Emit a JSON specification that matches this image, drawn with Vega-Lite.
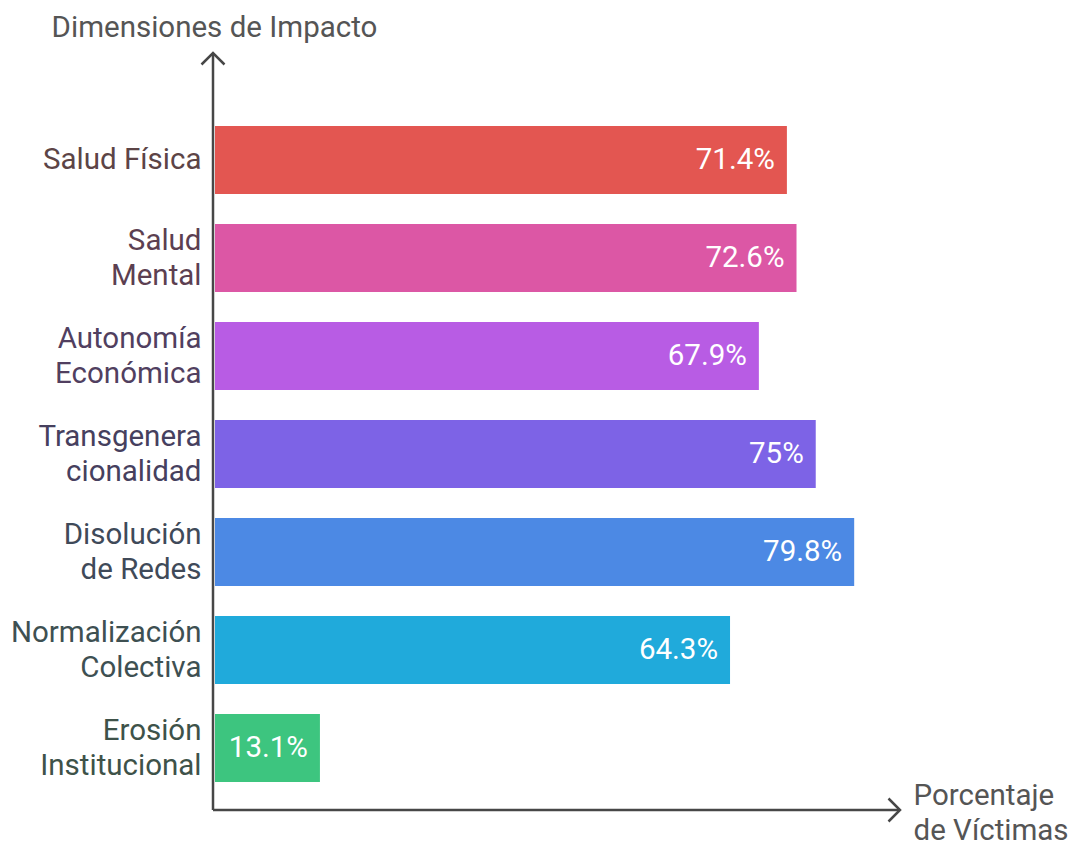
{
  "$schema": "https://vega.github.io/schema/vega-lite/v6.json",
  "autosize": "none",
  "width": 687,
  "height": 757,
  "padding": {"left": 213, "top": 53, "right": 170, "bottom": 31},
  "background": "white",
  "config": {"view": {"stroke": null}, "font": "Roboto"},
  "resolve": {"scale": {"y": "independent"}, "axis": {"y": "independent"}},
  "layer": [
    {
      "data": {"values": [
        {"dim": "Salud Física", "pct": 71.4},
        {"dim": "Salud Mental", "pct": 72.6},
        {"dim": "Autonomía Económica", "pct": 67.9},
        {"dim": "Transgeneracionalidad", "pct": 75},
        {"dim": "Disolución de Redes", "pct": 79.8},
        {"dim": "Normalización Colectiva", "pct": 64.3},
        {"dim": "Erosión Institucional", "pct": 13.1}
      ]},
      "transform": [{"calculate": "datum.pct + '%'", "as": "label"}],
      "encoding": {
        "y": {
          "field": "dim", "type": "nominal", "sort": null,
          "scale": {"range": [58, 744], "paddingInner": 0.306, "paddingOuter": 0.153},
          "axis": {
            "title": "Dimensiones de Impacto",
            "titleFont": "Roboto", "titleFontSize": 29.5, "titleFontWeight": "normal", "titleColor": "#555555",
            "titleAngle": 0, "titleX": 1, "titleY": -26, "titleAlign": "center", "titleBaseline": "middle",
            "domain": false, "ticks": false, "grid": false,
            "labelFont": "Roboto", "labelFontSize": 29.5, "labelPadding": 12, "labelLineHeight": 35,
            "labelLimit": 300,
            "labelOffset": {"condition": {"test": "datum.value == 'Salud Física'", "value": 0}, "value": -17.5},
            "labelExpr": "datum.value == 'Transgeneracionalidad' ? ['Transgenera', 'cionalidad'] : datum.value == 'Salud Física' ? datum.value : [slice(datum.value, 0, indexof(datum.value, ' ')), slice(datum.value, indexof(datum.value, ' ') + 1)]",
            "labelColor": {
              "condition": [
                {"test": "datum.value == 'Salud Física'", "value": "#5C4446"},
                {"test": "datum.value == 'Salud Mental'", "value": "#5C3F51"},
                {"test": "datum.value == 'Autonomía Económica'", "value": "#513F60"},
                {"test": "datum.value == 'Transgeneracionalidad'", "value": "#46405E"},
                {"test": "datum.value == 'Disolución de Redes'", "value": "#3F4A59"},
                {"test": "datum.value == 'Normalización Colectiva'", "value": "#3E5052"}
              ],
              "value": "#3E5249"
            }
          }
        },
        "x": {
          "field": "pct", "type": "quantitative",
          "scale": {"domain": [-0.25, 85.52], "nice": false, "zero": false},
          "axis": {
            "title": ["Porcentaje", "de Víctimas"],
            "titleFont": "Roboto", "titleFontSize": 29.5, "titleFontWeight": "normal", "titleColor": "#555555",
            "titleX": 700, "titleY": -15, "titleAlign": "left", "titleBaseline": "middle", "titleLineHeight": 35,
            "domain": false, "ticks": false, "labels": false, "grid": false
          }
        }
      },
      "layer": [
        {
          "mark": {"type": "bar"},
          "encoding": {
            "color": {
              "field": "dim", "type": "nominal", "legend": null,
              "scale": {
                "domain": ["Salud Física", "Salud Mental", "Autonomía Económica", "Transgeneracionalidad", "Disolución de Redes", "Normalización Colectiva", "Erosión Institucional"],
                "range": ["#E35651", "#DC57A5", "#B85CE4", "#7D63E6", "#4C89E4", "#20AADB", "#3DC57F"]
              }
            }
          }
        },
        {
          "mark": {"type": "text", "align": "right", "baseline": "middle", "dx": -12, "font": "Roboto", "fontSize": 29.5, "color": "white"},
          "encoding": {"text": {"field": "label"}}
        }
      ]
    },
    {
      "data": {"values": [{}]},
      "mark": {"type": "rule", "color": "#474747", "strokeWidth": 2.5},
      "encoding": {
        "x": {"datum": -0.25, "type": "quantitative"},
        "y": {"datum": 0, "type": "quantitative", "scale": {"domain": [0, 1], "nice": false}, "axis": null},
        "y2": {"datum": 1}
      }
    },
    {
      "data": {"values": [{}]},
      "mark": {"type": "rule", "color": "#474747", "strokeWidth": 2.5},
      "encoding": {
        "x": {"datum": -0.25, "type": "quantitative"},
        "x2": {"datum": 85.52},
        "y": {"datum": 0, "type": "quantitative", "scale": {"domain": [0, 1], "nice": false}, "axis": null}
      }
    },
    {
      "data": {"values": [{}]},
      "mark": {"type": "point", "shape": "M -1 1 L 0 0 L 1 1", "filled": false, "stroke": "#474747", "strokeWidth": 2.5, "size": 529, "opacity": 1},
      "encoding": {
        "x": {"datum": -0.25, "type": "quantitative"},
        "y": {"datum": 1, "type": "quantitative", "scale": {"domain": [0, 1], "nice": false}, "axis": null}
      }
    },
    {
      "data": {"values": [{}]},
      "mark": {"type": "point", "shape": "M -1 -1 L 0 0 L -1 1", "filled": false, "stroke": "#474747", "strokeWidth": 2.5, "size": 529, "opacity": 1},
      "encoding": {
        "x": {"datum": 85.52, "type": "quantitative"},
        "y": {"datum": 0, "type": "quantitative", "scale": {"domain": [0, 1], "nice": false}, "axis": null}
      }
    }
  ]
}
